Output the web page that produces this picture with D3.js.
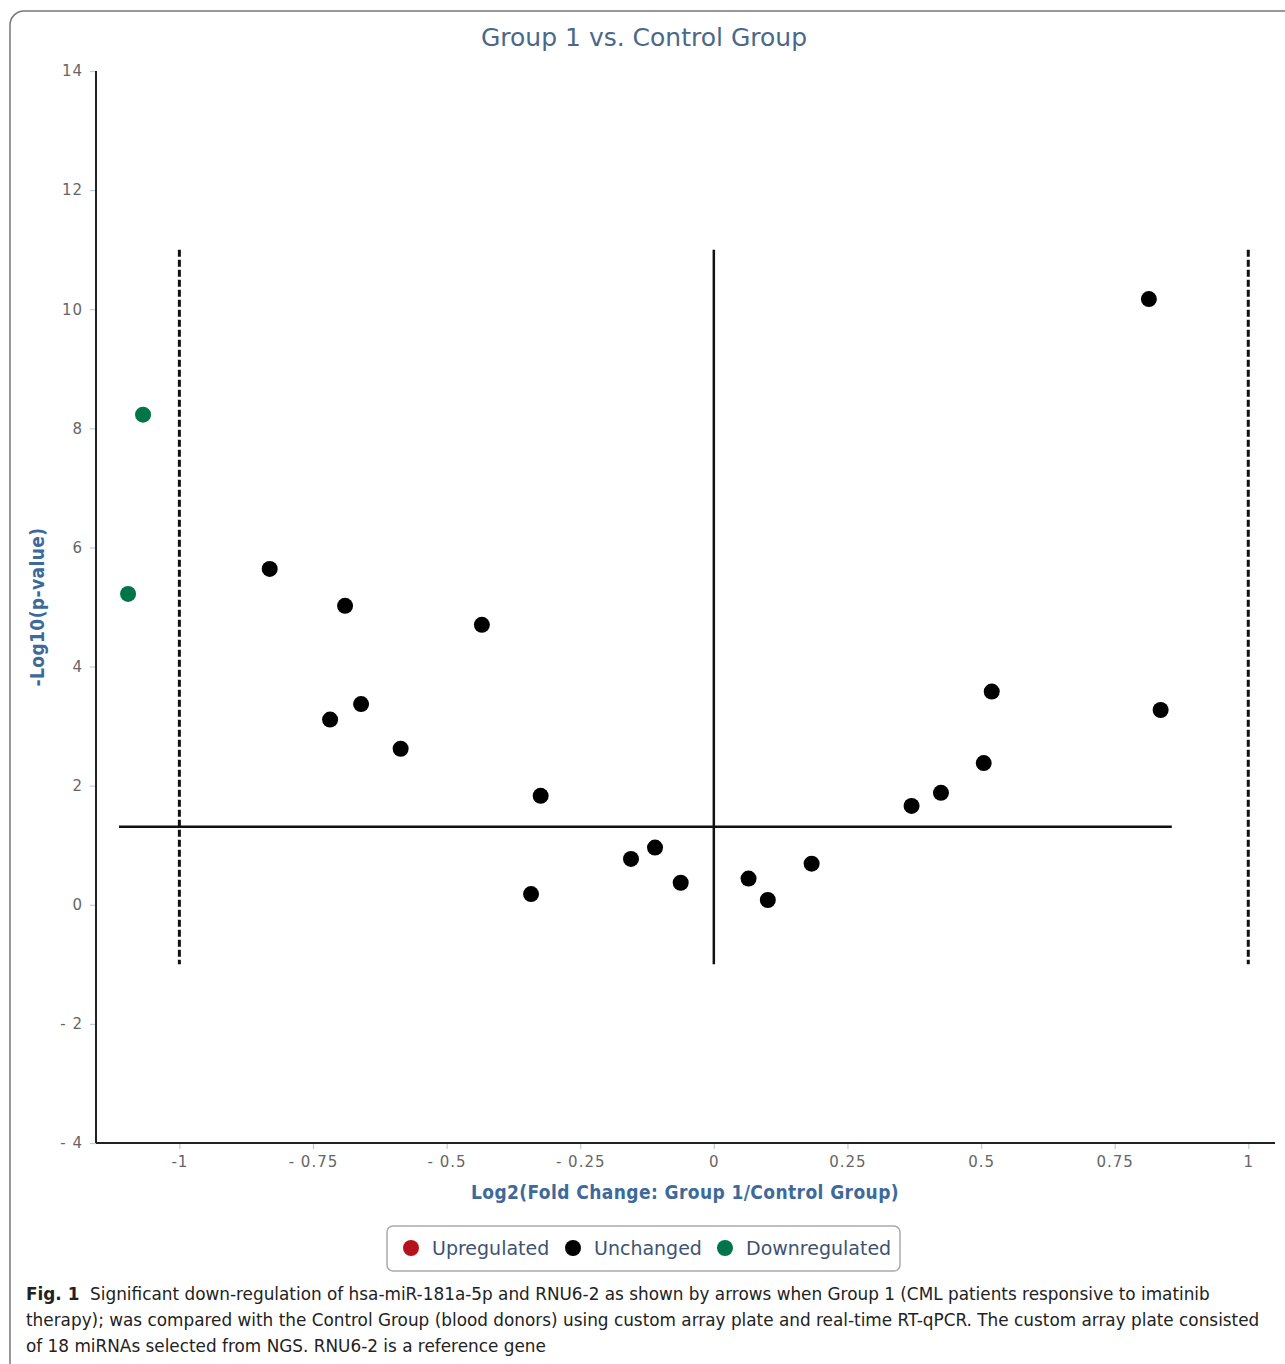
<!DOCTYPE html>
<html>
<head>
<meta charset="utf-8">
<script src="https://cdn.jsdelivr.net/npm/d3@7.9.0/dist/d3.min.js"></script>
<style>
  body { margin: 0; background: #fff; }
  svg text { font-family: "DejaVu Sans", sans-serif; }
</style>
</head>
<body>
<svg id="chart" width="1285" height="1364"></svg>
<script>
// data
const downX = [-1.068, -1.096];
const downY = [8.23, 5.22];
const unchangedX = [-0.831, -0.690, -0.434, -0.718, -0.660, -0.586, -0.324, -0.342, -0.155, -0.110,
                    -0.062, 0.065, 0.101, 0.183, 0.370, 0.425, 0.505, 0.520, 0.814, 0.836];
const unchangedY = [5.64, 5.02, 4.70, 3.11, 3.37, 2.62, 1.83, 0.18, 0.77, 0.96,
                    0.37, 0.44, 0.08, 0.69, 1.66, 1.88, 2.38, 3.58, 10.17, 3.27];
const xTicks = [-1, -0.75, -0.5, -0.25, 0, 0.25, 0.5, 0.75, 1];
const yTicks = [-4, -2, 0, 2, 4, 6, 8, 10, 12, 14];
const pThreshold = 1.31;        // -log10(0.05)
const fcThreshold = [-1, 1];
const thresholdSpan = [-1.113, 0.857];
const guideSpan = [-1, 11];
const legendLabels = ['Upregulated', 'Unchanged', 'Downregulated'];
const legendColors = ['#b5121b', '#000000', '#00754a'];
const captionLines = [
  '  Significant down-regulation of hsa-miR-181a-5p and RNU6-2 as shown by arrows when Group 1 (CML patients responsive to imatinib',
  'therapy); was compared with the Control Group (blood donors) using custom array plate and real-time RT-qPCR. The custom array plate consisted',
  'of 18 miRNAs selected from NGS. RNU6-2 is a reference gene'
];

const svg = d3.select('#chart');

// outer frame
svg.append('rect')
  .attr('x', 10).attr('y', 11).attr('width', 1320).attr('height', 1400)
  .attr('rx', 14)
  .attr('fill', 'none').attr('stroke', '#777').attr('stroke-width', 1.5);

const x = d3.scaleLinear().domain([-1.156, 1.05]).range([96, 1275]);
const y = d3.scaleLinear().domain([-4, 14]).range([1143, 71]);

// title
svg.append('text')
  .attr('x', 644).attr('y', 46)
  .attr('text-anchor', 'middle')
  .attr('fill', '#4b6888')
  .style('font-size', '25px')
  .text('Group 1 vs. Control Group');

// axes
const xAxis = svg.append('g')
  .attr('transform', `translate(0,${y(-4)})`)
  .call(d3.axisBottom(x).tickValues(xTicks).tickSize(6).tickPadding(7).tickFormat(d3.format('')));
const yAxis = svg.append('g')
  .attr('transform', `translate(${x.range()[0]},0)`)
  .call(d3.axisLeft(y).tickValues(yTicks).tickSize(6).tickPadding(7));

[xAxis, yAxis].forEach(g => {
  g.select('.domain').remove();
  g.selectAll('.tick line').attr('stroke', '#b8cde0').attr('stroke-width', 1.2);
  g.selectAll('.tick text')
    .attr('fill', '#666')
    .style('font-size', '15px')
    .style('letter-spacing', '1px')
    .text(d => (d === -1 ? '-1' : String(d).replace('-', '- ')));
});
svg.append('line')
  .attr('x1', x.range()[0]).attr('x2', x.range()[1])
  .attr('y1', y(-4)).attr('y2', y(-4))
  .attr('stroke', '#222').attr('stroke-width', 2);
svg.append('line')
  .attr('x1', x.range()[0]).attr('x2', x.range()[0])
  .attr('y1', y(14)).attr('y2', y(-4))
  .attr('stroke', '#222').attr('stroke-width', 2);

// axis titles
svg.append('text')
  .attr('x', 685).attr('y', 1199)
  .attr('text-anchor', 'middle')
  .attr('fill', '#3d6a9a')
  .style('font-family', '"DejaVu Sans Condensed", "DejaVu Sans", sans-serif')
  .style('font-weight', 'bold')
  .style('font-size', '19px')
  .style('letter-spacing', '0.4px')
  .text('Log2(Fold Change: Group 1/Control Group)');
svg.append('text')
  .attr('transform', `translate(44,${y(5)}) rotate(-90)`)
  .attr('text-anchor', 'middle')
  .attr('fill', '#3d6a9a')
  .style('font-family', '"DejaVu Sans Condensed", "DejaVu Sans", sans-serif')
  .style('font-weight', 'bold')
  .style('font-size', '19px')
  .style('letter-spacing', '0.4px')
  .text('-Log10(p-value)');

// guide lines
svg.append('line')
  .attr('x1', x(thresholdSpan[0])).attr('x2', x(thresholdSpan[1]))
  .attr('y1', y(pThreshold)).attr('y2', y(pThreshold))
  .attr('stroke', '#111').attr('stroke-width', 2.5);
svg.append('line')
  .attr('x1', x(0)).attr('x2', x(0))
  .attr('y1', y(guideSpan[1])).attr('y2', y(guideSpan[0]))
  .attr('stroke', '#111').attr('stroke-width', 2.5);
fcThreshold.forEach(v => {
  svg.append('line')
    .attr('x1', x(v)).attr('x2', x(v))
    .attr('y1', y(guideSpan[1])).attr('y2', y(guideSpan[0]))
    .attr('stroke', '#111').attr('stroke-width', 3)
    .attr('stroke-dasharray', '7,3');
});

// points
svg.append('g').selectAll('circle')
  .data(d3.zip(unchangedX, unchangedY))
  .join('circle')
  .attr('cx', d => x(d[0])).attr('cy', d => y(d[1]))
  .attr('r', 8).attr('fill', legendColors[1]);
svg.append('g').selectAll('circle')
  .data(d3.zip(downX, downY))
  .join('circle')
  .attr('cx', d => x(d[0])).attr('cy', d => y(d[1]))
  .attr('r', 8).attr('fill', legendColors[2]);

// legend
svg.append('rect')
  .attr('x', 387).attr('y', 1226).attr('width', 513).attr('height', 45)
  .attr('rx', 6)
  .attr('fill', '#fff').attr('stroke', '#aaa').attr('stroke-width', 1.5);
const legendX = [411, 573, 725];
legendLabels.forEach((lab, i) => {
  svg.append('circle')
    .attr('cx', legendX[i]).attr('cy', 1248).attr('r', 8)
    .attr('fill', legendColors[i]);
  svg.append('text')
    .attr('x', legendX[i] + 21).attr('y', 1255)
    .attr('fill', '#3e5272')
    .style('font-size', '19px')
    .text(lab);
});

// caption, sized so the long second line fits like the original
const cap = svg.append('g')
  .style('font-family', '"Open Sans", sans-serif')
  .style('font-size', '18px')
  .attr('fill', '#222');
const capTexts = captionLines.map((line, i) => {
  const t = cap.append('text').attr('x', 26).attr('y', 1300 + i * 26).attr('xml:space', 'preserve');
  if (i === 0) t.append('tspan').style('font-weight', 'bold').text('Fig. 1');
  t.append('tspan').text(line);
  return t;
});
const w2 = capTexts[1].node().getComputedTextLength();
cap.style('font-size', (18 * 1233 / w2).toFixed(2) + 'px');
</script>
</body>
</html>
